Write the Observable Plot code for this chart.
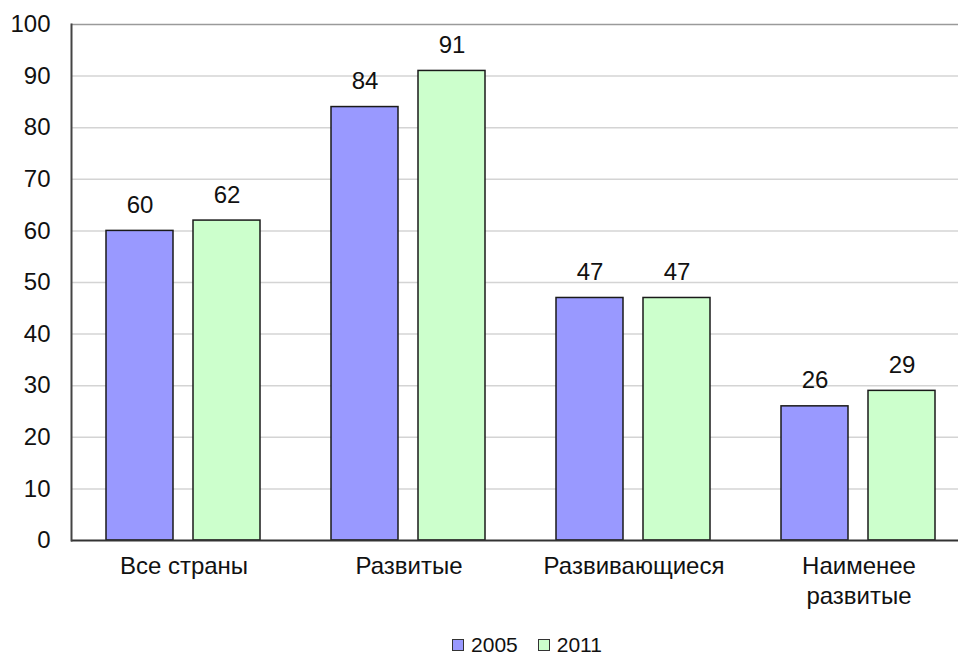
<!DOCTYPE html>
<html>
<head>
<meta charset="utf-8">
<script src="https://cdn.jsdelivr.net/npm/d3@7"></script>
<script src="https://cdn.jsdelivr.net/npm/@observablehq/plot@0.6"></script>
<style>
  html, body { margin: 0; padding: 0; background: #fff; }
  body { width: 958px; font-family: "Liberation Sans", Arial, sans-serif; }
  #chart svg { display: block; }
  #legend { display: flex; justify-content: center; align-items: center; height: 20px; line-height: 20px; font-size: 21px; color: #111; margin-left: 96px; margin-top: 16px; }
  .item { display: flex; align-items: center; margin: 0 10px; }
  .sw { width: 10px; height: 10px; border: 1.5px solid #333; margin-right: 7px; }
</style>
</head>
<body>
<div id="chart"></div>
<div id="legend"></div>
<script>
const categories = ["Все страны", "Развитые", "Развивающиеся", "Наименее\nразвитые"];
const years = ["2005", "2011"];
const values2005 = [60, 84, 47, 26];
const values2011 = [62, 91, 47, 29];
const yTicks = [0, 10, 20, 30, 40, 50, 60, 70, 80, 90, 100];
const colors = ["#9999ff", "#ccffcc"];

const data = [];
categories.forEach((c, i) => {
  data.push({cat: c, year: years[0], value: values2005[i]});
  data.push({cat: c, year: years[1], value: values2011[i]});
});

const font = "Liberation Sans, Arial, sans-serif";

const chart = Plot.plot({
  width: 958,
  height: 619,
  marginLeft: 71,
  marginRight: -13,
  marginTop: 24,
  marginBottom: 79,
  style: {fontFamily: font, fontSize: "24px", color: "#111", background: "#fff"},
  fx: {domain: categories, padding: 0, label: null},
  x: {domain: years, paddingInner: 0.227, paddingOuter: 0.392, axis: null},
  y: {domain: [0, 100], label: null},
  color: {domain: years, range: colors},
  marks: [
    Plot.ruleY(yTicks.slice(1, -1), {stroke: "#d4d4d4", strokeWidth: 1.5}),
    Plot.ruleY([100], {stroke: "#9a9a9a", strokeWidth: 1.5}),
    Plot.barY(data, {fx: "cat", x: "year", y: "value", fill: "year", stroke: "#1a1a1a", strokeWidth: 1.5}),
    Plot.text(data, {fx: "cat", x: "year", y: "value", text: d => String(d.value), lineAnchor: "bottom", dy: -18, fontSize: 24, fill: "#111"}),
    Plot.ruleY([0], {stroke: "#333", strokeWidth: 2}),
    Plot.frame({anchor: "left", facetAnchor: "left", stroke: "#444", strokeWidth: 2}),
    Plot.axisY({ticks: yTicks, tickSize: 0, tickPadding: 21, fontSize: 24, label: null}),
    Plot.axisFx({anchor: "bottom", tickSize: 0, tickPadding: 12, fontSize: 24, lineHeight: 1.25, label: null})
  ]
});
document.getElementById("chart").appendChild(chart);

const legend = document.getElementById("legend");
years.forEach((y, i) => {
  const item = document.createElement("div");
  item.className = "item";
  const sw = document.createElement("div");
  sw.className = "sw";
  sw.style.background = colors[i];
  const t = document.createElement("span");
  t.textContent = y;
  item.appendChild(sw);
  item.appendChild(t);
  legend.appendChild(item);
});
</script>
</body>
</html>
